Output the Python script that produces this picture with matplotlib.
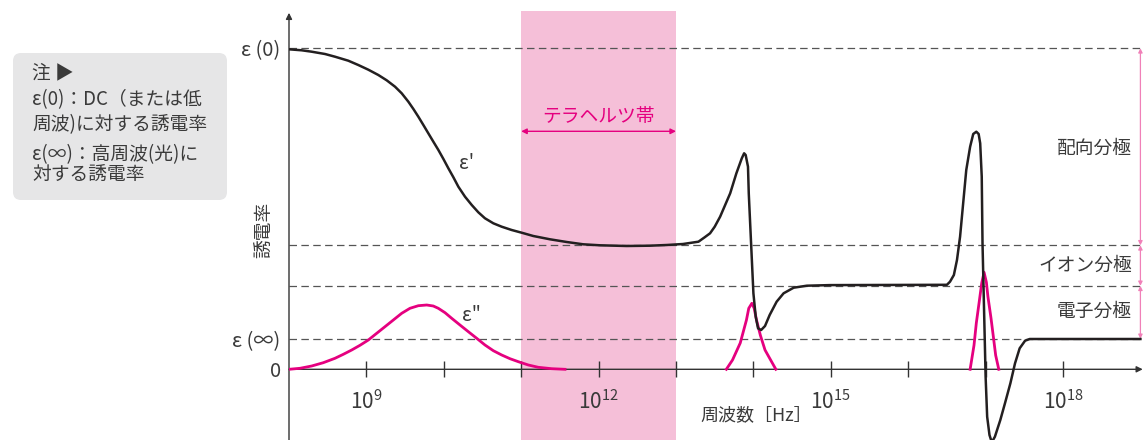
import matplotlib
matplotlib.use('Agg')
import matplotlib.pyplot as plt
from matplotlib.patches import FancyBboxPatch
import numpy as np

plt.rcParams['font.family'] = ['Noto Sans CJK JP', 'DejaVu Sans']
plt.rcParams['mathtext.default'] = 'regular'

# 誘電率のレベル（任意単位）
eps_0 = 32.1     # ε(0)
eps_dip = 12.4   # 配向分極が抜けたあと
eps_ion = 8.35   # イオン分極が抜けたあと
eps_inf = 3.05   # ε(∞)

# ε' の曲線 (log10 周波数, 値)
eps1_logf = [8.00, 8.164, 8.293, 8.465, 8.594, 8.766, 8.895, 9.025, 9.154, 9.262,
             9.370, 9.456, 9.542, 9.607, 9.671, 9.736, 9.800, 9.865, 9.930, 9.995,
             10.059, 10.124, 10.188, 10.274, 10.361, 10.446, 10.532, 10.640, 10.748, 10.877,
             11.006, 11.156, 11.372, 11.588, 11.802, 12.018, 12.363, 12.66, 12.88, 13.09,
             13.29, 13.37, 13.44, 13.50, 13.57, 13.70, 13.78, 13.85, 13.88, 13.90,
             13.93, 13.94, 13.96, 13.98, 14.00, 14.03, 14.06, 14.10, 14.15, 14.21,
             14.30, 14.39, 14.52, 14.69, 14.99, 16.50, 16.54, 16.59, 16.63, 16.67,
             16.71, 16.75, 16.80, 16.84, 16.88, 16.91, 16.93, 16.95, 16.96, 16.98,
             17.00, 17.02, 17.05, 17.08, 17.12, 17.19, 17.25, 17.32, 17.38, 17.44,
             17.51, 17.57, 19.00]
eps1_val = [32.0, 31.9, 31.76, 31.53, 31.26, 30.86, 30.43, 29.96, 29.43, 28.90,
            28.26, 27.60, 26.76, 26.03, 25.26, 24.43, 23.60, 22.76, 21.93, 21.03,
            20.10, 19.20, 18.26, 17.26, 16.43, 15.70, 15.10, 14.60, 14.26, 13.93,
            13.66, 13.33, 13.0, 12.73, 12.5, 12.4, 12.33, 12.36, 12.43, 12.53,
            12.76, 13.2, 13.6, 14.26, 15.26, 17.6, 19.6, 21.1, 21.6, 21.43,
            20.26, 17.6, 14.26, 10.93, 7.6, 5.26, 4.1, 3.93, 4.33, 5.43,
            6.76, 7.6, 8.16, 8.36, 8.42, 8.45, 8.76, 9.43, 10.93, 13.26,
            16.6, 19.93, 22.26, 23.53, 23.76, 23.53, 22.6, 19.26, 12.6, 5.93,
            -0.74, -4.74, -6.57, -7.3, -6.74, -5.07, -3.4, -1.4, 0.6, 2.1,
            2.86, 3.03, 3.03]

# ε'' の山（配向・イオン・電子）
loss_dip_logf = [8.00, 8.142, 8.293, 8.443, 8.594, 8.702, 8.810, 8.917, 9.025, 9.133,
                 9.240, 9.348, 9.456, 9.563, 9.671, 9.779, 9.864, 9.929, 10.016, 10.102,
                 10.209, 10.317, 10.425, 10.532, 10.640, 10.748, 10.855, 10.963, 11.092, 11.221,
                 11.394, 11.566]
loss_dip_val = [0.0, 0.1, 0.33, 0.66, 1.1, 1.5, 1.93, 2.4, 2.93, 3.6,
                4.26, 4.93, 5.6, 6.1, 6.36, 6.43, 6.33, 6.1, 5.66, 5.1,
                4.43, 3.76, 3.1, 2.43, 1.86, 1.43, 1.06, 0.76, 0.43, 0.2,
                0.06, 0.0]
loss_ion_logf = [13.65, 13.73, 13.83, 13.91, 13.94, 13.98, 14.01, 14.04, 14.09, 14.15, 14.29]
loss_ion_val = [0.0, 0.93, 2.63, 4.93, 6.1, 6.6, 6.1, 4.93, 3.4, 1.93, 0.0]
loss_el_logf = [16.80, 16.85, 16.88, 16.92, 16.95, 16.98, 17.01, 17.03, 17.07, 17.10, 17.13, 17.17]
loss_el_val = [0.0, 2.4, 4.63, 6.9, 8.63, 9.7, 8.7, 7.26, 5.1, 3.26, 1.4, 0.0]

thz_band = (11, 13)
tick_exp = list(range(9, 19))
label_exp = [9, 12, 15, 18]

black = '#231f20'
magenta = '#e5007f'
pink = '#f080b8'
gray_txt = '#3a3a3a'

fig = plt.figure(figsize=(11.48, 4.4), dpi=100)
ax = fig.add_axes([289 / 1148, 0, 859 / 1148, 1])
ax.set_xscale('log')
ax.set_xlim(1e8, 10 ** 19.098)
ax.set_ylim(-7.07, 36.93)

# テラヘルツ帯
ax.axvspan(10 ** thz_band[0], 10 ** thz_band[1], ymax=(35.8 + 7.07) / 44,
           color='#f5bfd8', lw=0, zorder=0)

# 破線の基準レベル
ax.hlines([eps_0, eps_dip, eps_ion, eps_inf], 1e8, 10 ** 19.0,
          colors='#555555', lw=0.9, linestyles=(0, (6, 3.5)), zorder=1)

# 曲線
ax.plot(10 ** np.array(eps1_logf), eps1_val, color=black, lw=1.8,
        solid_joinstyle='round', zorder=4)
for lf, v in [(loss_dip_logf, loss_dip_val), (loss_ion_logf, loss_ion_val),
              (loss_el_logf, loss_el_val)]:
    ax.plot(10 ** np.array(lf), v, color=magenta, lw=2.0,
            solid_joinstyle='round', zorder=3)

# 軸
for s in ax.spines.values():
    s.set_visible(False)
ax.spines['bottom'].set_position(('data', 0))
ax.annotate('', xy=(10 ** 19.03, 0), xytext=(1e8, 0),
            arrowprops=dict(arrowstyle='-|>', lw=1.0, color='#333333',
                            mutation_scale=9, shrinkA=0, shrinkB=0),
            annotation_clip=False, zorder=2)
ax.annotate('', xy=(1e8, 35.65), xytext=(1e8, -7.07),
            arrowprops=dict(arrowstyle='-|>', lw=1.0, color='#333333',
                            mutation_scale=9, shrinkA=0, shrinkB=0),
            annotation_clip=False, zorder=2)

ax.set_xticks([10.0 ** e for e in tick_exp])
ax.set_xticklabels(['$10^{%d}$' % e if e in label_exp else '' for e in tick_exp])
ax.xaxis.set_minor_locator(matplotlib.ticker.NullLocator())
ax.tick_params(axis='x', direction='inout', length=12, width=1.0, color='#333333',
               pad=9, labelsize=15, labelcolor=gray_txt)

ax.set_yticks([0, eps_inf, eps_0])
ax.set_yticklabels(['0', 'ε (∞)', 'ε (0)'])
ax.tick_params(axis='y', length=0, pad=6, labelsize=14.5, labelcolor=gray_txt)

ax.text(10 ** 13.31, -4.57, '周波数［Hz］', ha='left', va='center',
        fontsize=13, color=gray_txt)
ax.text(-0.028, 0.477, '誘電率', transform=ax.transAxes, rotation=90,
        ha='center', va='center', fontsize=13.5, color=gray_txt)

# 曲線のラベル
ax.text(10 ** 10.30, 20.6, "ε'", ha='center', va='center', fontsize=14, color=gray_txt)
ax.text(10 ** 10.36, 5.4, 'ε"', ha='center', va='center', fontsize=14, color=gray_txt)

# テラヘルツ帯の矢印
ax.annotate('', xy=(10 ** thz_band[0], 23.8), xytext=(10 ** thz_band[1], 23.8),
            arrowprops=dict(arrowstyle='<|-|>', lw=1.0, color=magenta,
                            mutation_scale=8, shrinkA=0, shrinkB=0))
ax.text(10 ** 12, 25.3, 'テラヘルツ帯', ha='center', va='center',
        fontsize=13.5, color=magenta)

# 右側の分極の範囲
ranges = [(eps_0, eps_dip, '配向分極', 22.1),
          (eps_dip, eps_ion, 'イオン分極', 10.4),
          (eps_ion, eps_inf, '電子分極', 5.8)]
for top, bot, name, ty in ranges:
    ax.annotate('', xy=(10 ** 19.0, bot), xytext=(10 ** 19.0, top),
                arrowprops=dict(arrowstyle='<|-|>', lw=0.9, color=pink,
                                mutation_scale=6, shrinkA=0, shrinkB=0),
                annotation_clip=False)
    ax.text(10 ** 18.89, ty, name, ha='right', va='center', fontsize=13.5, color=gray_txt)

# 注の枠
box = FancyBboxPatch((13, 240), 214, 147, boxstyle='round,pad=0,rounding_size=8',
                     transform=None, facecolor='#e6e6e7', edgecolor='none')
fig.add_artist(box)
notes = [('注 ▶', 73), ('ε(0)：DC（または低', 100), ('周波)に対する誘電率', 125),
         ('ε(∞)：高周波(光)に', 155), ('対する誘電率', 175)]
for txt, yy in notes:
    fig.text(32 / 1148, 1 - yy / 440, txt, ha='left', va='center',
             fontsize=13.5, color=gray_txt)

fig.savefig('out.png', dpi=100)
